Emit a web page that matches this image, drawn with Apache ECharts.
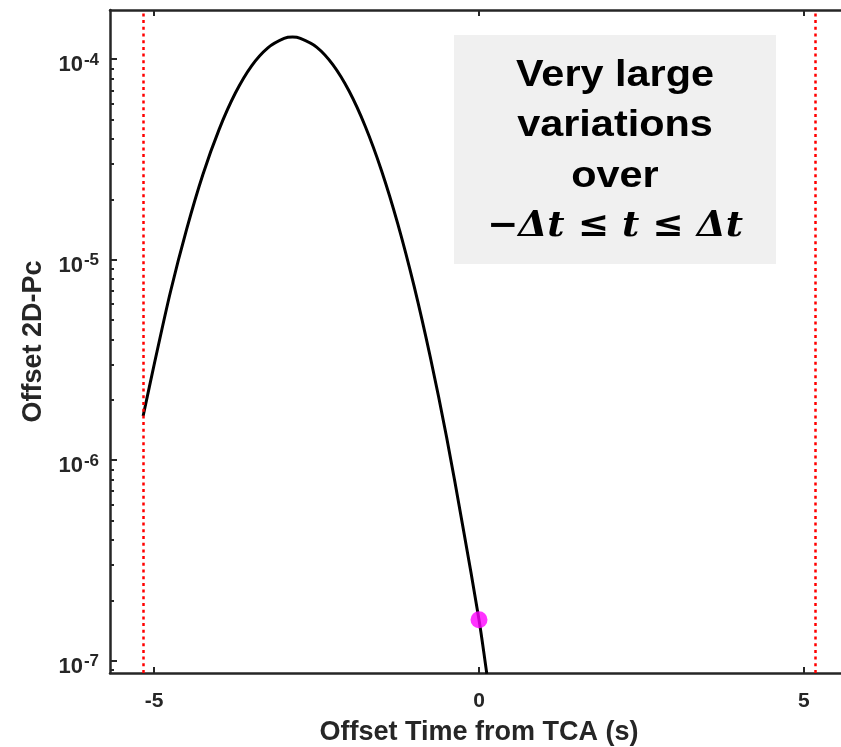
<!DOCTYPE html>
<html>
<head>
<meta charset="utf-8">
<script src="https://cdn.jsdelivr.net/npm/echarts@6/dist/echarts.min.js"></script>
<style>
  html, body { margin: 0; padding: 0; background: #fff; }
  #chart { width: 841px; height: 747px; }
</style>
</head>
<body>
<div id="chart"></div>
<script>
// Offset time from TCA (s) and the matching offset 2D-Pc values
const timeOffsets = [-5.17, -5.0, -4.75, -4.5, -4.25, -4.0, -3.75, -3.5, -3.25, -3.0, -2.87, -2.75,
  -2.5, -2.25, -2.0, -1.75, -1.5, -1.25, -1.0, -0.75, -0.5, -0.25, 0, 0.12];
const pcValues = [1.66e-6, 3.0e-6, 6.9e-6, 1.42e-5, 2.66e-5, 4.47e-5, 6.78e-5, 9.27e-5, 1.14e-4, 1.27e-4, 1.29e-4, 1.27e-4,
  1.15e-4, 9.4e-5, 6.94e-5, 4.62e-5, 2.78e-5, 1.51e-5, 7.4e-6, 3.27e-6, 1.31e-6, 4.7e-7, 1.6e-7, 8.6e-8];

// Pc at TCA
const tcaPoint = [0, 1.6e-7];

// Integration window edges (±Δt)
const windowEdges = [-5.17, 5.17];

// Axis ticks
const xTicks = [-5, 0, 5];
const yMajorTicks = [1e-7, 1e-6, 1e-5, 1e-4];
const yMinorTicks = [];
[-8, -7, -6, -5, -4].forEach(function (e) {
  for (let k = 2; k <= 9; k++) {
    const v = k * Math.pow(10, e);
    if (v > 8.68e-8 && v < 1.76e-4) yMinorTicks.push(v);
  }
});

const xRange = [-5.68, 5.68];
const yRange = [8.68e-8, 1.76e-4];

const noteLines = ['Very large', 'variations', 'over'];
const noteMath = '\u2212\u0394t \u2264 t \u2264 \u0394t';

const axisColor = '#262626';
const sans = '"Liberation Sans", Arial, sans-serif';

const chart = echarts.init(document.getElementById('chart'), null, { renderer: 'canvas' });

const curve = timeOffsets.map(function (t, i) { return [t, pcValues[i]]; });

// Annotation box with its centred text lines
const noteGraphics = [{
  type: 'rect', left: 454, top: 35, z: 100,
  shape: { width: 322, height: 229 },
  style: { fill: '#f0f0f0' }
}].concat(noteLines.map(function (line, i) {
  return {
    type: 'text', x: 615, y: 76 + i * 50.5, scaleX: 1.15, z: 101,
    style: {
      text: line, align: 'center', verticalAlign: 'middle',
      font: 'bold 36px ' + sans, fill: '#000'
    }
  };
})).concat([{
  type: 'text', x: 615, y: 227, scaleX: 1.04, z: 101,
  style: {
    text: noteMath, align: 'center', verticalAlign: 'middle',
    font: 'italic bold 36px "DejaVu Serif", "Liberation Serif", serif', fill: '#000'
  }
}]);

const option = {
  animation: false,
  backgroundColor: '#ffffff',
  grid: { left: 110, top: 10, width: 738, height: 663, outerBoundsMode: 'none', containLabel: false },
  xAxis: [
    {
      type: 'value', min: xRange[0], max: xRange[1], position: 'bottom',
      name: 'Offset Time from TCA (s)', nameLocation: 'middle', nameGap: 46,
      nameTextStyle: { fontFamily: sans, fontWeight: 'bold', fontSize: 27, color: axisColor },
      axisLine: { onZero: false, lineStyle: { color: axisColor, width: 2.5 } },
      axisTick: { inside: true, length: 6, customValues: xTicks, lineStyle: { color: axisColor, width: 2 } },
      axisLabel: { customValues: xTicks, margin: 18, fontFamily: sans, fontWeight: 'bold', fontSize: 21, color: axisColor },
      splitLine: { show: false }
    },
    {
      type: 'value', min: xRange[0], max: xRange[1], position: 'top',
      axisLine: { onZero: false, lineStyle: { color: axisColor, width: 2.5 } },
      axisTick: { inside: true, length: 6, customValues: xTicks, lineStyle: { color: axisColor, width: 2 } },
      axisLabel: { show: false },
      splitLine: { show: false }
    }
  ],
  yAxis: [
    {
      type: 'log', logBase: 10, min: yRange[0], max: yRange[1], position: 'left',
      name: 'Offset 2D-Pc', nameLocation: 'middle', nameGap: 63, nameRotate: 90,
      nameTextStyle: { fontFamily: sans, fontWeight: 'bold', fontSize: 27, color: axisColor },
      axisLine: { onZero: false, lineStyle: { color: axisColor, width: 2.5 } },
      axisTick: { inside: true, length: 7, customValues: yMajorTicks, lineStyle: { color: axisColor, width: 2 } },
      axisLabel: {
        customValues: yMajorTicks, margin: 11, padding: [12, 0, 0, 0],
        formatter: function (v) {
          const e = Math.round(Math.log10(v));
          return '{b|10}{s|' + e + '}';
        },
        rich: {
          b: { fontFamily: sans, fontWeight: 'bold', fontSize: 22, color: axisColor },
          s: { fontFamily: sans, fontWeight: 'bold', fontSize: 17, color: axisColor, padding: [0, 0, 10, 1] }
        }
      },
      splitLine: { show: false }
    },
    {
      type: 'log', logBase: 10, min: yRange[0], max: yRange[1], position: 'left',
      axisLine: { show: false, onZero: false },
      axisTick: { inside: true, length: 4, customValues: yMinorTicks, lineStyle: { color: axisColor, width: 2 } },
      axisLabel: { show: false },
      splitLine: { show: false }
    }
  ],
  graphic: noteGraphics,
  series: [
    {
      type: 'line', xAxisIndex: 0, yAxisIndex: 0,
      data: curve, showSymbol: false, smooth: 0.3,
      lineStyle: { color: '#000', width: 3 },
      markLine: {
        silent: true, symbol: 'none', label: { show: false },
        lineStyle: { color: '#ff0000', width: 2.5, type: [3, 3.7] },
        data: windowEdges.map(function (x) { return { xAxis: x }; })
      },
      z: 3
    },
    {
      type: 'scatter', xAxisIndex: 0, yAxisIndex: 0,
      data: [tcaPoint], symbol: 'circle', symbolSize: 17,
      itemStyle: { color: '#ff00ff' }, z: 4
    }
  ]
};

chart.setOption(option);
</script>
</body>
</html>
